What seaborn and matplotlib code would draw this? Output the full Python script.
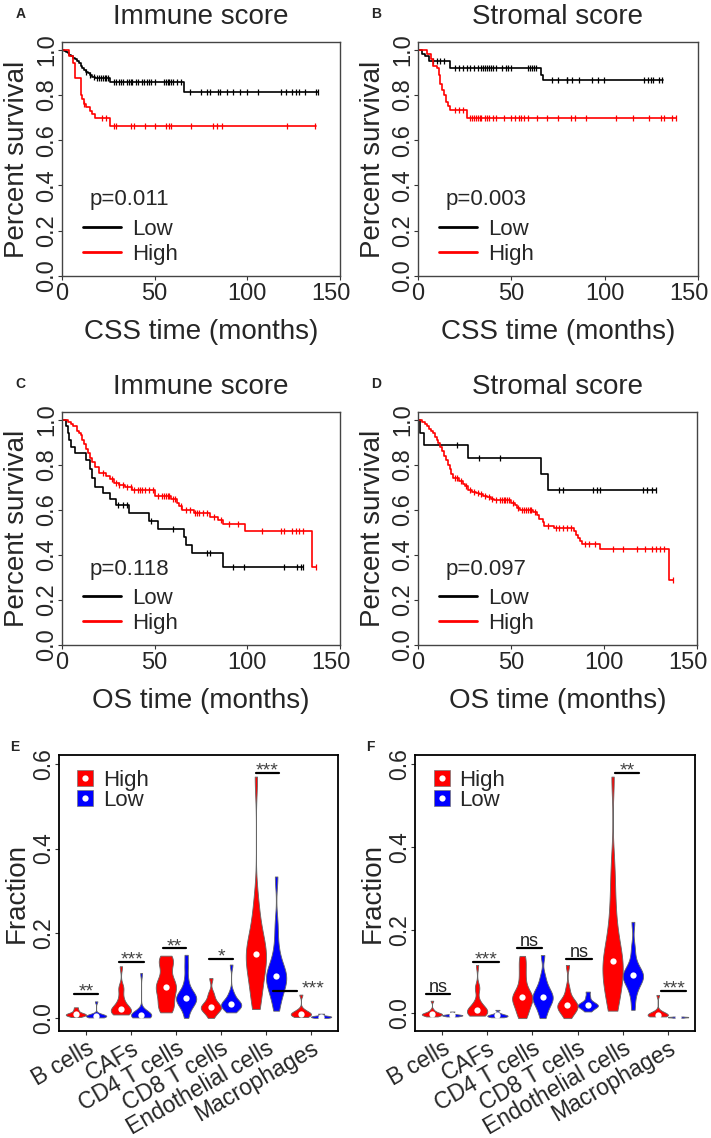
"""
Survival curves (CSS / OS) split by immune and stromal score, plus
violin plots of estimated cell fractions in the High / Low score groups.
"""

import numpy as np
import pandas as pd
import matplotlib
matplotlib.use("Agg")
import matplotlib.pyplot as plt
import matplotlib.transforms as mtransforms
from matplotlib.lines import Line2D
from matplotlib.legend_handler import HandlerTuple
from matplotlib.ticker import FormatStrFormatter
import seaborn as sns

# ---------------------------------------------------------------------------
# Kaplan-Meier curves: event times, survival after each event, censor times
# ---------------------------------------------------------------------------
CSS_IMM_LOW_T = [1, 2, 3, 4, 5, 6, 7, 8, 9, 10, 11, 12, 13, 14, 15, 16, 18, 26, 66]
CSS_IMM_LOW_S = [0.995, 0.99, 0.985, 0.975, 0.97, 0.965, 0.96, 0.95, 0.94, 0.93,
                 0.92, 0.91, 0.90, 0.895, 0.89, 0.88, 0.873, 0.858, 0.814]
CSS_IMM_LOW_END = 138
CSS_IMM_LOW_CENS = [13, 15, 17, 19, 20, 21, 22, 23, 24, 25, 28, 29, 31, 32, 33, 35, 36,
                    37, 38, 40, 41, 43, 44, 46, 47, 48, 50, 55, 56, 57, 58, 59, 60, 62,
                    64, 69, 75, 78, 80, 84, 85, 89, 92, 96, 100, 106, 118, 121, 124,
                    126, 128, 131, 137, 138]
CSS_IMM_HIGH_T = [4, 6, 7, 10, 11, 12, 13, 15, 16, 18, 26]
CSS_IMM_HIGH_S = [0.97, 0.94, 0.876, 0.80, 0.78, 0.76, 0.745, 0.73, 0.715, 0.696, 0.662]
CSS_IMM_HIGH_END = 137
CSS_IMM_HIGH_CENS = [12, 21.6, 23.9, 28, 29, 37, 39, 45, 50, 56, 57.5, 58.7, 69.5, 81.7,
                     83.9, 86.2, 121.6, 136.5]

CSS_STR_LOW_T = [2, 4, 6, 17, 66, 67]
CSS_STR_LOW_S = [0.98, 0.97, 0.95, 0.92, 0.89, 0.865]
CSS_STR_LOW_END = 131
CSS_STR_LOW_CENS = [8, 10, 12, 14, 20, 22, 24, 26, 28, 30, 32, 34, 35, 36, 37, 38, 39, 40,
                    42, 45, 47, 48, 50, 59, 60, 61, 62, 63, 71.6, 75, 79.6, 80, 82.3,
                    86.3, 93.4, 96.3, 99.4, 121, 123, 125, 126, 129, 130.6]
CSS_STR_HIGH_T = [5, 7, 8, 10, 11, 12, 13, 14, 15, 16, 17, 26]
CSS_STR_HIGH_S = [0.98, 0.96, 0.93, 0.92, 0.89, 0.85, 0.82, 0.80, 0.77, 0.75, 0.735, 0.70]
CSS_STR_HIGH_END = 138
CSS_STR_HIGH_CENS = [20, 22, 24, 28, 29, 30, 31, 32, 33, 34, 36, 37, 38, 40, 42, 46, 50,
                     52, 54, 55, 57, 59, 64, 69, 75, 82, 84, 90, 106, 115, 124, 130,
                     132, 136, 138]

OS_IMM_LOW_T = [2, 3, 4, 5, 7, 13, 15, 16, 18, 22, 26, 29, 36, 47, 52, 66, 67, 70, 87]
OS_IMM_LOW_S = [0.97, 0.94, 0.91, 0.88, 0.852, 0.82, 0.78, 0.74, 0.70, 0.675, 0.65,
                0.62, 0.586, 0.551, 0.516, 0.48, 0.445, 0.41, 0.347]
OS_IMM_LOW_END = 130
OS_IMM_LOW_CENS = [30, 33, 35, 48, 60, 78, 80, 92, 98, 120, 127, 129, 130]
OS_IMM_HIGH_T = [3, 5, 6, 8, 9, 10, 11, 12, 13, 14, 15, 16, 18, 20, 24, 26, 28, 31, 34,
                 38, 50, 59, 62, 63, 65, 71, 80, 84, 87, 99, 135]
OS_IMM_HIGH_S = [0.99, 0.98, 0.97, 0.95, 0.94, 0.93, 0.91, 0.89, 0.87, 0.85, 0.83, 0.81,
                 0.79, 0.764, 0.75, 0.735, 0.72, 0.71, 0.70, 0.69, 0.662, 0.65, 0.63,
                 0.615, 0.60, 0.586, 0.57, 0.554, 0.539, 0.505, 0.344]
OS_IMM_HIGH_END = 137
OS_IMM_HIGH_CENS = [22, 27, 29, 31, 33, 35, 37, 39, 41, 42, 43, 45, 47, 49, 52, 54, 55,
                    56, 57, 58, 60, 61, 64, 67, 69, 72, 73, 74, 76, 78, 82, 86, 90, 95,
                    108, 118, 120, 124, 126, 128, 130, 137]

OS_STR_LOW_T = [1, 3, 27, 66, 70]
OS_STR_LOW_S = [0.94, 0.889, 0.83, 0.76, 0.69]
OS_STR_LOW_END = 128
OS_STR_LOW_CENS = [21, 33, 44, 76, 78, 94, 96, 98, 121, 123, 126, 128]
OS_STR_HIGH_T = [2, 4, 5, 6, 7, 8, 9, 10, 11, 12, 13, 14, 15, 16, 17, 18, 19, 22, 24, 25,
                 27, 29, 31, 33, 35, 37, 39, 41, 50, 52, 53, 55, 62, 64, 65, 67, 68, 73,
                 84, 85, 86, 87, 88, 98, 135]
OS_STR_HIGH_S = [0.99, 0.98, 0.97, 0.96, 0.95, 0.94, 0.925, 0.91, 0.895, 0.88, 0.86,
                 0.84, 0.82, 0.80, 0.78, 0.76, 0.74, 0.73, 0.715, 0.705, 0.69, 0.68,
                 0.675, 0.67, 0.66, 0.655, 0.65, 0.643, 0.63, 0.62, 0.61, 0.598, 0.59,
                 0.575, 0.56, 0.545, 0.527, 0.52, 0.505, 0.49, 0.475, 0.46, 0.45, 0.424,
                 0.288]
OS_STR_HIGH_END = 137
OS_STR_HIGH_CENS = [20, 21, 23, 26, 28, 30, 32, 34, 36, 38, 40, 42, 44, 45, 46, 47, 48,
                    49, 51, 54, 56, 57, 58, 59, 60, 61, 63, 70, 74, 76, 78, 80, 82, 90,
                    92, 95, 105, 110, 118, 122, 126, 128, 130, 132, 137]

KM_TITLES = ["Immune score", "Stromal score", "Immune score", "Stromal score"]
KM_XLABELS = ["CSS time (months)", "CSS time (months)", "OS time (months)", "OS time (months)"]
KM_PVALUES = ["p=0.011", "p=0.003", "p=0.118", "p=0.097"]

# ---------------------------------------------------------------------------
# Cell fractions (E: immune score groups, F: stromal score groups)
# ---------------------------------------------------------------------------
CELL_TYPES = ["B cells", "CAFs", "CD4 T cells", "CD8 T cells", "Endothelial cells",
              "Macrophages"]

IMM_HIGH = {
    "B cells": [0.002, 0.004, 0.005, 0.006, 0.007, 0.008, 0.009, 0.010, 0.011, 0.013,
                0.016, 0.020, 0.025],
    "CAFs": [0.008, 0.010, 0.012, 0.014, 0.016, 0.018, 0.020, 0.022, 0.025, 0.030,
             0.040, 0.050, 0.070, 0.072, 0.122],
    "CD4 T cells": [0.013, 0.020, 0.030, 0.040, 0.050, 0.060, 0.070, 0.073, 0.080,
                    0.090, 0.100, 0.120, 0.130, 0.140, 0.147],
    "CD8 T cells": [0.000, 0.010, 0.015, 0.020, 0.022, 0.025, 0.026, 0.030, 0.035,
                    0.040, 0.050, 0.060, 0.094],
    "Endothelial cells": [0.021, 0.040, 0.060, 0.080, 0.100, 0.120, 0.130, 0.140, 0.150,
                          0.151, 0.160, 0.170, 0.190, 0.210, 0.240, 0.280, 0.570],
    "Macrophages": [0.002, 0.004, 0.006, 0.008, 0.010, 0.010, 0.012, 0.015, 0.020,
                    0.055],
}
IMM_LOW = {
    "B cells": [0.001, 0.002, 0.003, 0.004, 0.005, 0.005, 0.006, 0.007, 0.008, 0.039],
    "CAFs": [0.001, 0.002, 0.003, 0.004, 0.005, 0.006, 0.007, 0.008, 0.009, 0.010,
             0.012, 0.015, 0.106],
    "CD4 T cells": [0.000, 0.020, 0.030, 0.035, 0.040, 0.045, 0.046, 0.050, 0.055,
                    0.060, 0.070, 0.090, 0.120, 0.149],
    "CD8 T cells": [0.013, 0.020, 0.025, 0.028, 0.030, 0.031, 0.033, 0.036, 0.040,
                    0.050, 0.060, 0.126],
    "Endothelial cells": [0.017, 0.040, 0.060, 0.070, 0.080, 0.090, 0.095, 0.100, 0.102,
                          0.110, 0.120, 0.140, 0.170, 0.220, 0.334],
    "Macrophages": [0.000, 0.001, 0.002, 0.003, 0.004, 0.005, 0.010],
}
STR_HIGH = {
    "B cells": [-0.008, -0.006, -0.005, -0.004, -0.003, -0.002, -0.002, -0.001, 0.000,
                0.003, 0.008, 0.030],
    "CAFs": [-0.006, -0.004, -0.002, 0.000, 0.002, 0.004, 0.006, 0.008, 0.010, 0.015,
             0.020, 0.030, 0.060, 0.062, 0.116],
    "CD4 T cells": [-0.012, 0.000, 0.010, 0.020, 0.030, 0.035, 0.038, 0.040, 0.050,
                    0.060, 0.080, 0.100, 0.120, 0.138],
    "CD8 T cells": [-0.012, 0.000, 0.005, 0.010, 0.015, 0.018, 0.020, 0.025, 0.030,
                    0.040, 0.060, 0.116],
    "Endothelial cells": [0.006, 0.020, 0.040, 0.060, 0.080, 0.090, 0.100, 0.110, 0.119,
                          0.130, 0.140, 0.160, 0.180, 0.210, 0.250, 0.300, 0.360, 0.570],
    "Macrophages": [-0.008, -0.007, -0.006, -0.005, -0.004, -0.003, -0.002, 0.000,
                    0.005, 0.044],
}
STR_LOW = {
    "B cells": [-0.008, -0.007, -0.006, -0.005, -0.005, -0.004, -0.003, 0.004],
    "CAFs": [-0.010, -0.009, -0.008, -0.007, -0.006, -0.005, -0.004, -0.003, 0.000,
             0.008],
    "CD4 T cells": [-0.012, 0.005, 0.015, 0.025, 0.030, 0.035, 0.040, 0.045, 0.050,
                    0.060, 0.070, 0.090, 0.140],
    "CD8 T cells": [0.004, 0.010, 0.014, 0.016, 0.018, 0.020, 0.022, 0.025, 0.030,
                    0.040, 0.052],
    "Endothelial cells": [0.008, 0.040, 0.060, 0.070, 0.080, 0.085, 0.090, 0.092, 0.095,
                          0.100, 0.110, 0.130, 0.160, 0.220],
    "Macrophages": [-0.011, -0.010, -0.010, -0.009, -0.009, -0.008],
}

# significance labels, bar heights and bar extents (relative to category)
SIG_E = ["**", "***", "**", "*", "***", "***"]
SIG_E_Y = [0.057, 0.133, 0.164, 0.139, 0.578, 0.064]
SIG_E_X0 = [-0.27, -0.26, -0.30, -0.27, -0.23, -0.84]
SIG_E_X1 = [0.26, 0.29, 0.22, 0.26, 0.29, -0.32]
SIG_E_TX = [0.0, 0.02, -0.04, 0.0, 0.03, 0.05]

SIG_F = ["ns", "***", "ns", "ns", "**", "***"]
SIG_F_Y = [0.046, 0.123, 0.156, 0.130, 0.578, 0.054]
SIG_F_X0 = [-0.36, -0.31, -0.34, -0.25, -0.18, -0.15]
SIG_F_X1 = [0.18, 0.25, 0.21, 0.32, 0.37, 0.41]
SIG_F_TX = [-0.09, -0.03, -0.06, 0.03, 0.09, 0.13]

GROUP_COLORS = {"High": "#FF0000", "Low": "#0000FF"}

# ---------------------------------------------------------------------------
sns.set_theme(style="ticks")
plt.rcParams["font.family"] = ["Liberation Sans", "DejaVu Sans"]

W, H = 711, 1138
fig = plt.figure(figsize=(W / 100, H / 100), dpi=100)


def px_axes(left, top, right, bottom):
    return fig.add_axes([left / W, 1 - bottom / H, (right - left) / W, (bottom - top) / H])


def style_ticks(ax, labelsize=17):
    ax.tick_params(axis="both", labelsize=labelsize, length=3, width=0.8,
                   color="#333333")
    ax.tick_params(axis="x", pad=2)
    ax.tick_params(axis="y", labelrotation=90, pad=0)
    for lab in ax.get_yticklabels():
        lab.set_va("center")


def km_frame(times, surv, end):
    t = [0] + list(times) + [end]
    s = [1.0] + list(surv) + [surv[-1]]
    return pd.DataFrame({"time": t, "surv": s})


def draw_km(ax, curves, title, xlabel, pval, letter):
    for times, surv, end, cens, color in curves:
        df = km_frame(times, surv, end)
        sns.lineplot(data=df, x="time", y="surv", drawstyle="steps-post", color=color,
                     lw=1.2, estimator=None, sort=False, ax=ax)
        idx = np.searchsorted(df["time"].values, cens, side="right") - 1
        ax.plot(cens, df["surv"].values[idx], ls="none", marker="|", ms=4.5, mew=0.9,
                color=color)
    ax.set_xlim(0, 150)
    ax.set_ylim(0, 1.034)
    ax.set_xticks([0, 50, 100, 150])
    ax.set_yticks([0, 0.2, 0.4, 0.6, 0.8, 1.0])
    ax.yaxis.set_major_formatter(FormatStrFormatter("%.1f"))
    style_ticks(ax)
    # the last x label sits a little inside the frame, as in the original device
    last = ax.get_xticklabels()[-1]
    last.set_transform(last.get_transform() +
                       mtransforms.ScaledTranslation(-9 / 100, 0, fig.dpi_scale_trans))
    for sp in ax.spines.values():
        sp.set_color("#444444")
        sp.set_linewidth(1.0)
    ax.set_title(title, fontsize=20, pad=13)
    ax.set_xlabel(xlabel, fontsize=20)
    ax.set_ylabel("Percent survival", fontsize=20)
    ax.yaxis.set_label_coords(-0.115, 0.5)
    ax.xaxis.set_label_coords(0.5, -0.185)
    ax.text(0.1, 0.325, pval, transform=ax.transAxes, fontsize=16, va="center",
            ha="left")
    handles = [Line2D([], [], color="black", lw=2), Line2D([], [], color="red", lw=2)]
    ax.legend(handles, ["Low", "High"], loc="upper left", bbox_to_anchor=(0.075, 0.245),
              frameon=False, fontsize=16, handlelength=1.7, handletextpad=0.5,
              labelspacing=0.18, borderpad=0, borderaxespad=0)
    ax.text(-0.15, 1.12, letter, transform=ax.transAxes, fontsize=10,
            fontweight="bold", va="center", ha="center")


def violin_frame(high, low):
    rows = []
    for cell in CELL_TYPES:
        rows += [(cell, "High", v) for v in high[cell]]
        rows += [(cell, "Low", v) for v in low[cell]]
    return pd.DataFrame(rows, columns=["cell", "group", "fraction"])


def draw_violins(ax, high, low, ylim, sig, sig_y, x0, x1, tx, letter):
    df = violin_frame(high, low)
    sns.violinplot(data=df, x="cell", y="fraction", hue="group", order=CELL_TYPES,
                   hue_order=["High", "Low"], palette=GROUP_COLORS, saturation=1,
                   width=0.9, gap=0, cut=0, density_norm="width", bw_adjust=0.6,
                   inner=None, linewidth=0.6, linecolor="#666666", legend=False, ax=ax)
    sns.pointplot(data=df, x="cell", y="fraction", hue="group", order=CELL_TYPES,
                  hue_order=["High", "Low"], palette={"High": "white", "Low": "white"},
                  estimator="median", errorbar=None, dodge=0.45, markers="o",
                  linestyle="none", markersize=4.5, markeredgewidth=0, legend=False,
                  ax=ax)
    for i, lab in enumerate(sig):
        ax.plot([i + x0[i], i + x1[i]], [sig_y[i], sig_y[i]], color="black", lw=1.6)
        if lab == "ns":
            ax.text(i + tx[i], sig_y[i] + 0.005, lab, ha="center", va="baseline",
                    fontsize=13, color="#222222")
        else:
            ax.text(i + tx[i], sig_y[i] - 0.006, lab, ha="center", va="baseline",
                    fontsize=14, color="#444444")
    ax.set_xlim(-0.6, 5.6)
    ax.set_ylim(*ylim)
    ax.set_yticks([0, 0.2, 0.4, 0.6])
    ax.yaxis.set_major_formatter(FormatStrFormatter("%.1f"))
    ax.set_xlabel("")
    ax.set_ylabel("Fraction", fontsize=20)
    ax.yaxis.set_label_coords(-0.105, 0.5)
    ax.set_xticks(range(len(CELL_TYPES)))
    ax.set_xticklabels(CELL_TYPES, rotation=30, ha="right", rotation_mode="anchor")
    style_ticks(ax, labelsize=16.5)
    ax.tick_params(axis="x", pad=1)
    for sp in ax.spines.values():
        sp.set_color("black")
        sp.set_linewidth(1.3)
    handles = [
        (Line2D([], [], ls="none", marker="s", ms=11, mfc=GROUP_COLORS[g],
                mec="#777777", mew=0.5),
         Line2D([], [], ls="none", marker="o", ms=4.5, mfc="white", mec="white", mew=0))
        for g in ["High", "Low"]
    ]
    ax.legend(handles, ["High", "Low"], handler_map={tuple: HandlerTuple(ndivide=1)},
              loc="upper left", bbox_to_anchor=(0.065, 0.945), frameon=False,
              fontsize=16, handlelength=0.75, handletextpad=0.4, labelspacing=-0.05,
              borderpad=0, borderaxespad=0)
    ax.text(-0.16, 1.03, letter, transform=ax.transAxes, fontsize=10,
            fontweight="bold", va="center", ha="center")


ax_a = px_axes(62, 42, 340, 276)
ax_b = px_axes(418, 42, 698, 276)
ax_c = px_axes(62, 412, 340, 645)
ax_d = px_axes(418, 412, 697, 645)
ax_e = px_axes(59, 755, 338, 1031)
ax_f = px_axes(415, 755, 695, 1031)

draw_km(ax_a, [(CSS_IMM_LOW_T, CSS_IMM_LOW_S, CSS_IMM_LOW_END, CSS_IMM_LOW_CENS, "black"),
               (CSS_IMM_HIGH_T, CSS_IMM_HIGH_S, CSS_IMM_HIGH_END, CSS_IMM_HIGH_CENS, "red")],
        KM_TITLES[0], KM_XLABELS[0], KM_PVALUES[0], "A")
draw_km(ax_b, [(CSS_STR_LOW_T, CSS_STR_LOW_S, CSS_STR_LOW_END, CSS_STR_LOW_CENS, "black"),
               (CSS_STR_HIGH_T, CSS_STR_HIGH_S, CSS_STR_HIGH_END, CSS_STR_HIGH_CENS, "red")],
        KM_TITLES[1], KM_XLABELS[1], KM_PVALUES[1], "B")
draw_km(ax_c, [(OS_IMM_LOW_T, OS_IMM_LOW_S, OS_IMM_LOW_END, OS_IMM_LOW_CENS, "black"),
               (OS_IMM_HIGH_T, OS_IMM_HIGH_S, OS_IMM_HIGH_END, OS_IMM_HIGH_CENS, "red")],
        KM_TITLES[2], KM_XLABELS[2], KM_PVALUES[2], "C")
draw_km(ax_d, [(OS_STR_LOW_T, OS_STR_LOW_S, OS_STR_LOW_END, OS_STR_LOW_CENS, "black"),
               (OS_STR_HIGH_T, OS_STR_HIGH_S, OS_STR_HIGH_END, OS_STR_HIGH_CENS, "red")],
        KM_TITLES[3], KM_XLABELS[3], KM_PVALUES[3], "D")

draw_violins(ax_e, IMM_HIGH, IMM_LOW, (-0.031, 0.621), SIG_E, SIG_E_Y, SIG_E_X0,
             SIG_E_X1, SIG_E_TX, "E")
draw_violins(ax_f, STR_HIGH, STR_LOW, (-0.043, 0.622), SIG_F, SIG_F_Y, SIG_F_X0,
             SIG_F_X1, SIG_F_TX, "F")

fig.savefig("out.png", dpi=100)
